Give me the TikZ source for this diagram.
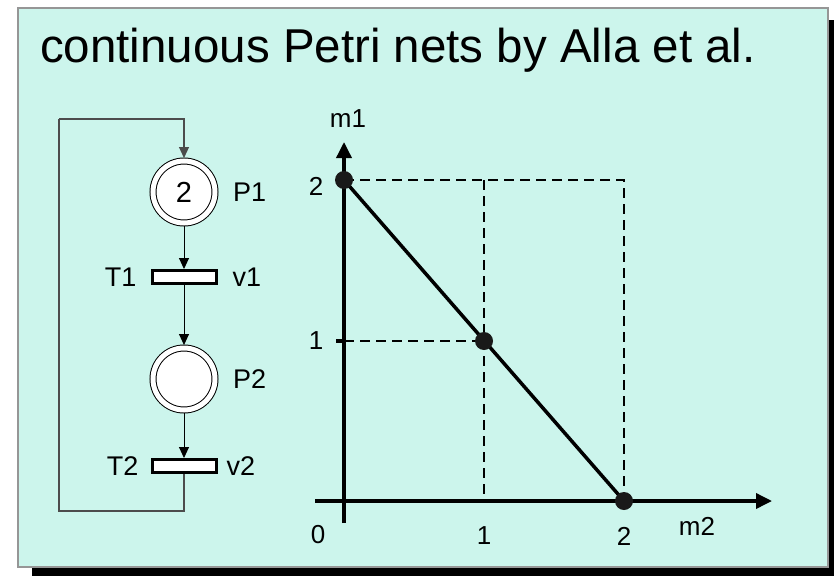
\documentclass[tikz,border=0pt]{standalone}
\usepackage{fontspec}
\setmainfont{Liberation Sans}
\usetikzlibrary{arrows.meta,positioning}
\definecolor{panel}{RGB}{204,245,236}
\definecolor{frame}{RGB}{150,150,150}

\begin{document}
\begin{tikzpicture}[
    x=1pt, y=-1pt,
    font=\fontsize{27}{31}\selectfont,
    place/.style={circle, draw, double, double distance=5pt, line width=1pt, fill=white, minimum size=62pt, inner sep=0pt, outer sep=3pt},
    trans/.style={draw, fill=white, line width=3pt, minimum width=64pt, minimum height=13pt, inner sep=0pt},
    tag/.style={inner sep=1pt},
    flow/.style={-{Triangle[length=11pt, width=10pt]}, line width=0.9pt},
    loopline/.style={line width=1.1pt, draw=black!70},
    axis/.style={-{Triangle[length=16pt, width=15pt]}, line width=3.5pt},
    guide/.style={line width=1.3pt, dash pattern=on 10pt off 6pt},
    dot/.style={circle, fill=black!90, minimum size=18pt, inner sep=0pt},
    num/.style={font=\fontsize{26}{29}\selectfont}
]
\clip (0,0) rectangle (834,575);
% slide panel with shadow
\fill[black] (32,20) rectangle (848,589);
\draw[fill=panel, draw=frame, line width=2pt] (18,8) rectangle (828,567);

\node[anchor=base west, inner sep=0pt, font=\fontsize{47.5}{52}\selectfont] (title) at (40,63) {continuous Petri nets by Alla et al.};

% Petri net
\node[place, font=\fontsize{29}{32}\selectfont] (p1) at (184,192) {2};
\node[trans, below=43pt of p1] (t1) {};
\node[place, below=60pt of t1] (p2) {};
\node[trans, below=45pt of p2] (t2) {};

\node[tag, right=14pt of p1] (lp1) {P1};
\node[tag, right=14pt of p2] (lp2) {P2};
\node[tag, left=13pt of t1] (lt1) {T1};
\node[tag, right=14pt of t1] (lv1) {v1};
\node[tag, left=11pt of t2] (lt2) {T2};
\node[tag, right=8pt of t2] (lv2) {v2};

\draw[flow] (p1) -- (t1);
\draw[flow] (t1) -- (p2);
\draw[flow] (p2) -- (t2);

\coordinate (cbl) at (59,511);
\coordinate (ctl) at (59,119);
\draw[loopline] (t2.south) |- (cbl) -- (ctl);
\draw[flow, loopline] (ctl) -| (p1.north);

% marking graph
\coordinate (q0) at (344,180);
\coordinate (q1) at (484,341);
\coordinate (q2) at (624,501);

\draw[guide] (q0) -| (q2);
\draw[guide] (344,341) -- (q1);
\draw[guide] (484,180) -- (484,501);

\draw[axis] (315,501) -- (772,501);
\draw[axis] (344,523) -- (344,142);
\draw[line width=3.5pt] (336,341) -- (344,341);
\draw[line width=3.5pt] (336,180) -- (344,180);

\draw[line width=3.5pt] (q0) -- (q2);
\node[dot] (d0) at (q0) {};
\node[dot] (d1) at (q1) {};
\node[dot] (d2) at (q2) {};

\node[num] (m1) at (348,119) {m1};
\node[num] (y2) at (316,186) {2};
\node[num] (y1) at (316,341) {1};
\node[num] (x0) at (318,535) {0};
\node[num] (x1) at (484,536) {1};
\node[num] (x2) at (624,536) {2};
\node[num] (m2) at (697,526) {m2};
\end{tikzpicture}
\end{document}
